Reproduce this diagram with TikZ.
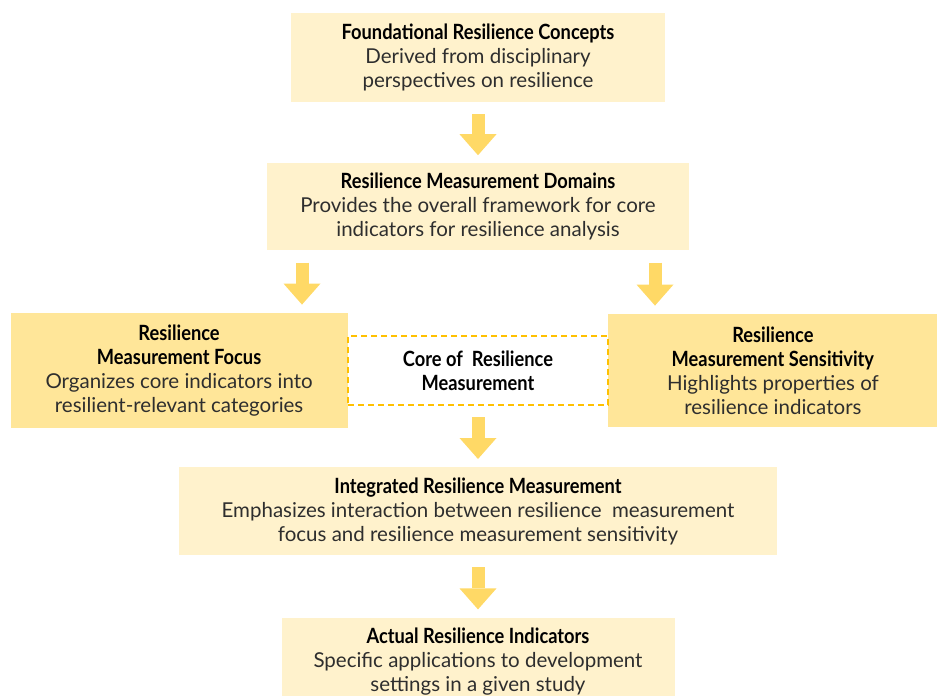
\documentclass[tikz,border=0pt]{standalone}
\usepackage{fontspec}
\setmainfont{Lato}
\newfontfamily\headfont{Lato}[FakeStretch=0.87]
\usetikzlibrary{positioning,arrows.meta}

\definecolor{lightgold}{HTML}{FFF2CC}
\definecolor{midgold}{HTML}{FFE699}
\definecolor{arrowgold}{HTML}{FFD966}
\definecolor{dashgold}{HTML}{FFC000}
\definecolor{bodygray}{HTML}{2E2E2E}

\newcommand{\heading}[1]{{\headfont\bfseries\fontsize{21}{24}\selectfont\color{black}#1}}

\tikzset{
	flowpicture/.style = {
		x = 1pt,
		y = -1pt,
		node distance = 62pt,
		blockarrow/.style = {
			draw = arrowgold,
			line width = 13pt,
			-{Triangle[length=21pt, width=37pt, line width=0pt, fill=arrowgold]},
			shorten <= 12pt,
			shorten >= 8pt
		}
	},
	stagebox/.style = {
		rectangle,
		fill = lightgold,
		align = center,
		text = bodygray,
		inner sep = 0pt,
		font = \fontsize{20.5}{24}\selectfont
	},
	keybox/.style = {
		stagebox,
		fill = midgold
	},
	corebox/.style = {
		rectangle,
		draw = dashgold,
		dashed,
		dash pattern = on 6pt off 4pt,
		line width = 1.4pt,
		align = center,
		inner sep = 0pt,
		font = \fontsize{20.5}{24}\selectfont
	}
}

\begin{document}
\begin{tikzpicture}[flowpicture]
	\useasboundingbox (0,0) rectangle (937,696);

	\node[stagebox, minimum width = 374pt, minimum height = 89pt] (found) at (478,57.5)
		{\heading{Foundational Resilience Concepts}\\Derived from disciplinary\\perspectives on resilience};
	\node[stagebox, minimum width = 422pt, minimum height = 87pt, below = 61pt of found] (domains)
		{\heading{Resilience Measurement Domains}\\Provides the overall framework for core\\indicators for resilience analysis};

	\node[minimum width = 260pt, minimum height = 69pt, inner sep = 0pt, below = 85pt of domains] (core) {};
	\node[keybox, minimum width = 337pt, minimum height = 115pt, left = 0pt of core] (focus)
		{\heading{Resilience}\\\heading{Measurement Focus}\\Organizes core indicators into\\resilient-relevant categories};
	\node[keybox, minimum width = 329pt, minimum height = 113pt, right = 0pt of core] (sens)
		{\heading{Resilience}\\\heading{Measurement Sensitivity}\\Highlights properties of\\resilience indicators};
	\node[corebox, minimum width = 260pt, minimum height = 69pt] at (core)
		{\heading{Core of~ Resilience}\\\heading{Measurement}};

	\node[stagebox, minimum width = 598pt, minimum height = 88pt, below = of core] (integ)
		{\heading{Integrated Resilience Measurement}\\Emphasizes interaction between resilience~ measurement\\focus and resilience measurement sensitivity};
	\node[stagebox, minimum width = 393pt, minimum height = 88pt, below = of integ] (actual)
		{\heading{Actual Resilience Indicators}\\Specific applications to development\\settings in a given study};

	\begin{scope}[every path/.style = blockarrow]
		\path (found) -- (domains);
		\path ([xshift=-176pt]domains.south) -- ([xshift=-176pt]domains.south |- focus.north);
		\path ([xshift=177pt]domains.south) -- ([xshift=177pt]domains.south |- sens.north);
		\path (core) -- (integ);
		\path (integ) -- (actual);
	\end{scope}
\end{tikzpicture}
\end{document}
